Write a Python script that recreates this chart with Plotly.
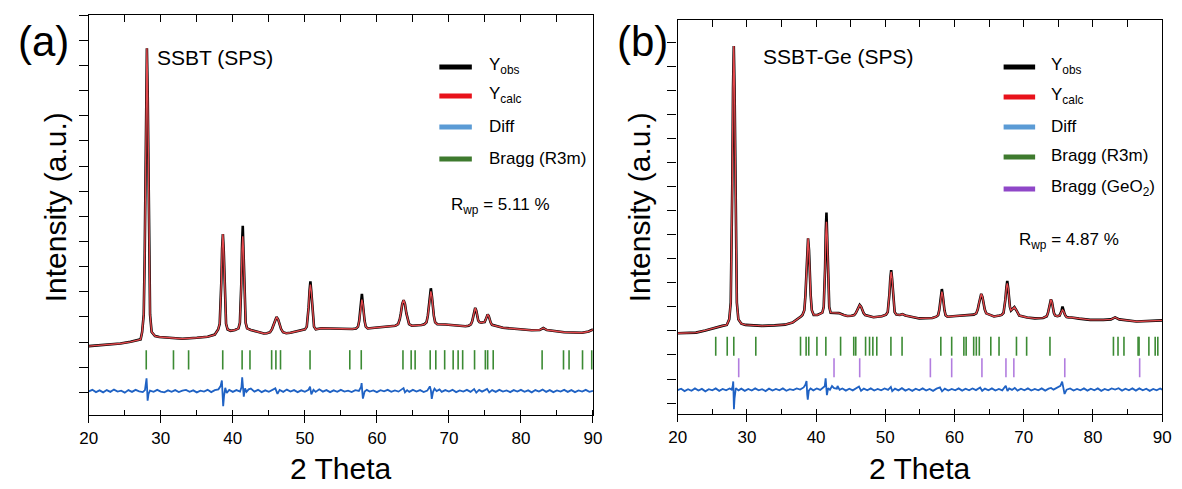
import plotly.graph_objects as go

W, H = 1182, 489
FONT = "Liberation Sans, Arial, sans-serif"

# ---------------- Panel (a): SSBT (SPS) ----------------
a_calc = [
    (20.0, 1840), (21.5, 1870), (23.0, 1900), (24.4, 1945), (25.8, 2010), (26.7, 2070), (27.2, 2110),
    (27.41, 2400), (27.63, 3090), (27.76, 5280), (27.85, 7930), (27.96, 11960), (28.07, 13690),
    (28.18, 11960), (28.29, 7930), (28.38, 5280), (28.51, 3090), (28.73, 2400),
    (29.2, 2240), (29.8, 2200), (31.0, 2170), (33.0, 2130), (35.0, 2170), (36.5, 2210), (37.5, 2300),
    (37.96, 2500), (38.18, 2730), (38.31, 3470), (38.40, 4360), (38.51, 5720), (38.62, 6300),
    (38.73, 5720), (38.84, 4360), (38.93, 3470), (39.06, 2730), (39.28, 2500),
    (39.7, 2450), (40.3, 2480),
    (40.78, 2545), (40.98, 2770), (41.10, 3480), (41.18, 4340), (41.28, 5650), (41.38, 6210),
    (41.48, 5650), (41.58, 4340), (41.66, 3480), (41.78, 2770), (41.98, 2545),
    (42.5, 2480), (43.3, 2420), (44.3, 2340),
    (44.72, 2353), (45.17, 2393), (45.44, 2518), (45.62, 2670), (45.845, 2901), (46.07, 3000),
    (46.295, 2901), (46.52, 2670), (46.70, 2518), (46.97, 2393), (47.42, 2353),
    (48.0, 2370), (48.9, 2420), (49.6, 2470),
    (50.02, 2506), (50.27, 2616), (50.42, 2961), (50.52, 3380), (50.645, 4017), (50.77, 4290),
    (50.895, 4017), (51.02, 3380), (51.12, 2961), (51.27, 2616), (51.52, 2506),
    (52.3, 2550), (53.5, 2540), (55.5, 2520), (56.6, 2520),
    (57.11, 2543), (57.38, 2614), (57.54, 2836), (57.65, 3105), (57.785, 3515), (57.92, 3690),
    (58.055, 3515), (58.19, 3105), (58.30, 2836), (58.46, 2614), (58.73, 2543),
    (59.7, 2570), (61.0, 2600), (62.0, 2625),
    (62.57, 2651), (62.95, 2713), (63.18, 2911), (63.33, 3150), (63.52, 3514), (63.71, 3670),
    (63.90, 3514), (64.09, 3150), (64.24, 2911), (64.47, 2713), (64.85, 2651),
    (65.6, 2660), (66.2, 2680),
    (66.59, 2707), (66.89, 2787), (67.07, 3042), (67.19, 3350), (67.34, 3819), (67.49, 4020),
    (67.64, 3819), (67.79, 3350), (67.91, 3042), (68.09, 2787), (68.39, 2707),
    (69.5, 2700), (71.0, 2660), (72.3, 2630),
    (72.75, 2652), (73.05, 2703), (73.23, 2827), (73.35, 2995), (73.50, 3250), (73.65, 3360),
    (73.80, 3250), (73.95, 2995), (74.07, 2860), (74.25, 2790), (74.5, 2770), (74.75, 2790),
    (74.96, 2800), (75.08, 2875), (75.23, 3032), (75.38, 3100), (75.53, 3032), (75.68, 2875),
    (75.80, 2776), (75.98, 2686), (76.28, 2663),
    (77.5, 2570), (79.5, 2520), (81.5, 2470), (82.6, 2480), (83.1, 2560), (83.6, 2480),
    (86.0, 2390), (88.5, 2370), (89.4, 2420), (90.0, 2500),
]
# observed peak tops that stick out above the calculated curve
a_obs_tops = [(41.28, 5900), (41.38, 6630), (50.77, 4420), (57.92, 3920), (67.49, 4140)]

a_diff = [
    (20.0, 40), (20.5, 100), (21.0, 10), (21.5, 80), (22.0, 0), (22.5, 90), (23.0, 20), (23.5, 110),
    (24.0, 30), (24.5, 70), (25.0, -10), (25.5, 90), (26.0, 20), (26.5, 100), (27.0, 40), (27.5, 10),
    (27.8, 90), (27.95, 350), (28.02, 560), (28.1, 150), (28.17, -330), (28.3, -60), (28.5, 70),
    (29.0, 20), (29.5, 100), (30.0, 30), (30.5, 0), (31.0, 80), (31.5, 20), (32.0, 90), (32.5, 10),
    (33.0, 70), (33.5, 100), (34.0, 20), (34.5, 80), (35.0, 0), (35.5, 70), (36.0, 30), (36.5, 100),
    (37.0, 10), (37.5, 90), (38.0, 120), (38.3, 250), (38.48, 470), (38.58, 100), (38.66, -550),
    (38.78, -150), (38.95, 180), (39.15, -20), (39.5, 100), (40.0, 20), (40.5, 90), (41.0, 30),
    (41.2, 200), (41.3, 600), (41.42, 80), (41.52, -170), (41.7, 160), (41.9, 20), (42.2, 120),
    (42.5, 150), (43.0, 30), (43.5, 100), (44.0, 10), (44.5, 80), (45.0, 20), (45.5, 100), (45.9, 160),
    (46.2, -60), (46.5, 100), (47.0, 20), (47.5, 110), (48.0, 30), (48.5, 90), (49.0, 10), (49.5, 80),
    (50.0, 20), (50.5, 100), (50.72, 230), (50.9, -80), (51.2, 100), (51.5, 20), (52.0, 120), (52.5, 30),
    (53.0, 90), (53.5, 10), (54.0, 80), (54.5, 20), (55.0, 100), (55.5, 30), (56.0, 70), (56.5, 10),
    (57.0, 90), (57.5, 60), (57.8, 220), (57.88, 370), (57.98, 0), (58.06, -250), (58.3, 30),
    (58.6, 100), (59.0, 30), (59.5, 80), (60.0, 10), (60.5, 90), (61.0, 40), (61.5, 100), (62.0, 20),
    (62.5, 80), (63.0, 30), (63.5, 140), (63.7, 170), (63.9, 0), (64.2, 90), (64.5, 20), (65.0, 100),
    (65.5, 30), (66.0, 90), (66.5, 10), (67.0, 70), (67.35, 240), (67.5, 80), (67.62, -260),
    (67.8, 20), (68.0, 150), (68.3, 50), (68.7, 120), (69.0, 20), (69.5, 90), (70.0, 30), (70.5, 100),
    (71.0, 10), (71.5, 80), (72.0, 30), (72.5, 100), (73.0, 20), (73.5, 130), (73.8, -10), (74.2, 100),
    (74.6, 30), (75.0, 90), (75.3, 140), (75.6, 0), (76.0, 90), (76.5, 20), (77.0, 100), (77.5, 30),
    (78.0, 80), (78.5, 10), (79.0, 90), (79.5, 30), (80.0, 100), (80.5, 20), (81.0, 80), (81.5, 0),
    (82.0, 90), (82.5, 30), (83.0, 110), (83.5, 20), (84.0, 90), (84.5, 10), (85.0, 80), (85.5, 30),
    (86.0, 100), (86.5, 20), (87.0, 90), (87.5, 10), (88.0, 80), (88.5, 30), (89.0, 100), (89.5, 20),
    (90.0, 60),
]
a_bragg_r3m = [27.98, 31.76, 33.86, 38.60, 41.29, 42.38, 45.39, 45.98, 46.62, 50.72, 56.24, 57.83,
               63.62, 64.76, 65.31, 67.40, 68.18, 69.41, 70.59, 71.28, 71.91, 73.56, 75.06, 75.38,
               76.15, 82.94, 85.91, 86.68, 88.55, 89.83]
a_bragg_level = (910, 1680)

# ---------------- Panel (b): SSBT-Ge (SPS) ----------------
b_calc = [
    (20.0, 2900), (21.5, 2910), (22.65, 2930), (24.0, 3020), (25.0, 3110), (25.8, 3170), (26.45, 3210), (27.1, 3250),
    (27.45, 3480), (27.67, 4180), (27.80, 6380), (27.89, 9045), (28.0, 13100), (28.11, 14840),
    (28.22, 13100), (28.33, 9045), (28.42, 6380), (28.55, 4180), (28.77, 3480),
    (29.2, 3300), (29.8, 3250), (31.0, 3230), (32.2, 3210), (34.0, 3230), (35.5, 3260), (36.6, 3350),
    (37.4, 3500), (37.85, 3610),
    (38.03, 3665), (38.30, 3860), (38.46, 4478), (38.57, 5225), (38.705, 6363), (38.84, 6850),
    (38.975, 6363), (39.11, 5225), (39.22, 4478), (39.38, 3860), (39.65, 3665),
    (40.2, 3660), (40.6, 3700),
    (40.9, 3757), (41.1, 3989), (41.22, 4722), (41.3, 5610), (41.4, 6961), (41.5, 7540),
    (41.6, 6961), (41.7, 5610), (41.78, 4722), (41.9, 3989), (42.1, 3757),
    (42.6, 3760), (43.3, 3740), (44.0, 3660), (44.5, 3620),
    (45.1, 3629), (45.5, 3657), (45.74, 3744), (45.9, 3850), (46.1, 4011), (46.3, 4080),
    (46.5, 4011), (46.7, 3850), (46.86, 3744), (47.1, 3657), (47.5, 3629),
    (48.3, 3570), (49.5, 3610),
    (50.1, 3676), (50.35, 3786), (50.5, 4131), (50.6, 4550), (50.725, 5187), (50.85, 5460),
    (50.975, 5187), (51.1, 4550), (51.2, 4131), (51.35, 3786), (51.6, 3676),
    (52.1, 3660), (52.45, 3700), (52.9, 3640), (54.9, 3520), (56.8, 3540),
    (57.36, 3591), (57.63, 3655), (57.79, 3856), (57.9, 4100), (58.035, 4471), (58.17, 4630),
    (58.305, 4471), (58.44, 4100), (58.55, 3856), (58.71, 3655), (58.98, 3591),
    (60.2, 3620), (62.1, 3660),
    (62.78, 3678), (63.14, 3730), (63.36, 3898), (63.5, 4100), (63.68, 4408), (63.86, 4540),
    (64.04, 4408), (64.22, 4100), (64.36, 3898), (64.58, 3730), (64.94, 3678),
    (65.7, 3600), (66.5, 3640),
    (66.81, 3667), (67.08, 3747), (67.24, 4002), (67.35, 4310), (67.485, 4779), (67.62, 4980),
    (67.755, 4779), (67.89, 4310), (68.0, 4002), (68.16, 3850),
    (68.4, 3920), (68.65, 3990), (68.95, 3850), (69.35, 3640),
    (70.5, 3560), (71.6, 3520), (72.8, 3540),
    (73.03, 3565), (73.33, 3611), (73.51, 3755), (73.63, 3930), (73.78, 4196), (73.93, 4310),
    (74.08, 4196), (74.23, 3930), (74.35, 3755), (74.53, 3640), (74.85, 3610),
    (75.18, 3636), (75.3, 3710), (75.45, 3822), (75.6, 3870), (75.75, 3822), (75.9, 3710),
    (76.02, 3636), (76.2, 3576), (76.5, 3555),
    (76.9, 3560), (78.0, 3510), (79.6, 3460), (81.5, 3460), (82.6, 3480), (83.2, 3560), (83.8, 3480),
    (86.3, 3390), (88.0, 3400), (89.0, 3430), (90.0, 3440),
]
b_obs_tops = [(41.4, 7150), (41.5, 7915), (50.85, 5530), (58.17, 4740), (67.62, 5080), (75.6, 4010)]

b_diff = [
    (20.0, 540), (20.5, 600), (21.0, 500), (21.5, 580), (22.0, 510), (22.5, 610), (23.0, 520), (23.5, 590),
    (24.0, 490), (24.5, 580), (25.0, 530), (25.5, 610), (26.0, 510), (26.5, 590), (27.0, 530), (27.5, 610),
    (27.8, 560), (27.95, 700), (28.03, 900), (28.08, 300), (28.13, -250), (28.22, 200), (28.4, 620),
    (28.8, 530), (29.2, 600), (29.7, 510), (30.2, 590), (30.7, 520), (31.2, 610), (31.7, 530), (32.2, 580),
    (32.7, 500), (33.2, 600), (33.7, 520), (34.2, 590), (34.7, 530), (35.2, 610), (35.7, 510), (36.2, 580),
    (36.7, 540), (37.2, 610), (37.7, 560), (38.2, 650), (38.45, 760), (38.62, 920), (38.72, 350),
    (38.8, 140), (38.95, 520), (39.2, 610), (39.6, 530), (40.1, 610), (40.6, 550), (41.0, 620),
    (41.25, 700), (41.38, 1030), (41.48, 560), (41.56, 330), (41.75, 620), (42.0, 550), (42.3, 710),
    (42.6, 620), (43.0, 600), (43.1, 710), (43.4, 550), (43.8, 610), (44.3, 520), (44.8, 600), (45.3, 530),
    (45.8, 610), (46.2, 690), (46.5, 510), (46.9, 600), (47.4, 530), (47.9, 610), (48.4, 520), (48.9, 590),
    (49.4, 530), (49.9, 610), (50.4, 550), (50.8, 670), (51.0, 500), (51.4, 600), (51.9, 530), (52.4, 620),
    (52.9, 520), (53.4, 590), (53.9, 510), (54.4, 600), (54.9, 530), (55.4, 610), (55.9, 520), (56.4, 590),
    (56.9, 510), (57.4, 600), (57.9, 650), (58.2, 490), (58.6, 600), (59.1, 520), (59.6, 590), (60.1, 530),
    (60.6, 610), (61.1, 520), (61.6, 600), (62.1, 530), (62.6, 610), (63.1, 540), (63.7, 650), (64.0, 510),
    (64.4, 600), (64.9, 530), (65.4, 610), (65.9, 520), (66.4, 590), (66.9, 530), (67.4, 720), (67.65, 500),
    (67.9, 610), (68.3, 550), (68.7, 630), (69.1, 520), (69.6, 600), (70.1, 530), (70.6, 610), (71.1, 520),
    (71.6, 590), (72.1, 530), (72.6, 610), (73.1, 520), (73.6, 600), (73.95, 630), (74.3, 560), (74.7, 620),
    (75.0, 650), (75.3, 720), (75.55, 890), (75.75, 600), (75.9, 380), (76.2, 560), (76.7, 610), (77.2, 520),
    (77.7, 590), (78.2, 530), (78.7, 610), (79.2, 520), (79.7, 600), (80.2, 530), (80.7, 610), (81.2, 510),
    (81.7, 590), (82.2, 530), (82.7, 610), (83.2, 560), (83.7, 620), (84.2, 520), (84.7, 600), (85.2, 530),
    (85.7, 610), (86.2, 520), (86.7, 610), (87.2, 530), (87.7, 600), (88.2, 510), (88.7, 590), (89.2, 530),
    (89.7, 610), (90.0, 560),
]
b_bragg_r3m = [25.50, 27.16, 28.11, 31.29, 37.75, 38.56, 38.94, 40.12, 41.41, 43.54, 45.44, 45.73,
               47.15, 47.72, 48.20, 48.77, 50.81, 52.42, 58.02, 59.59, 61.35, 61.68, 62.77, 63.15,
               63.58, 65.24, 66.43, 68.95, 70.42, 73.79, 82.96, 83.62, 84.48, 86.52, 86.66, 88.08,
               88.99, 89.37]
b_bragg_geo2 = [28.82, 42.59, 46.30, 56.51, 59.59, 63.96, 67.43, 68.57, 75.93, 86.75]
b_r3m_level = (1970, 2760)
b_geo2_level = (1072, 1862)

x_range = [20, 90]
x_ticks = [20, 30, 40, 50, 60, 70, 80, 90]

# ---------------- colours ----------------
C_OBS = "#000000"
C_CALC = "#e2474b"
C_DIFF = "#1f62c4"
C_R3M = "#3c8b34"
C_GEO2 = "#b27ddf"
L_CALC = "#e8121b"
L_DIFF = "#5b9bd5"
L_R3M = "#3e7a2e"
L_GEO2 = "#8f47c8"


def split(pairs):
    return [p[0] for p in pairs], [p[1] for p in pairs]


def with_tops(pairs, tops):
    d = dict(tops)
    return [(x, d.get(x, y)) for x, y in pairs]


def ticks(pos, level):
    xs, ys = [], []
    for p in pos:
        xs += [p, p, None]
        ys += [level[0], level[1], None]
    return xs, ys


fig = go.Figure()


def add_panel(calc, tops, diff, bragg_sets, xa, ya):
    ox, oy = split(with_tops(calc, tops))
    cx, cy = split(calc)
    dx, dy = split(diff)
    fig.add_trace(go.Scatter(x=ox, y=oy, mode="lines", line=dict(color=C_OBS, width=2.6),
                             xaxis=xa, yaxis=ya, showlegend=False))
    fig.add_trace(go.Scatter(x=cx, y=cy, mode="lines", line=dict(color=C_CALC, width=1.4),
                             xaxis=xa, yaxis=ya, showlegend=False))
    for pos, level, col in bragg_sets:
        tx, ty = ticks(pos, level)
        fig.add_trace(go.Scatter(x=tx, y=ty, mode="lines", line=dict(color=col, width=1.6),
                                 xaxis=xa, yaxis=ya, showlegend=False))
    fig.add_trace(go.Scatter(x=dx, y=dy, mode="lines", line=dict(color=C_DIFF, width=1.8),
                             xaxis=xa, yaxis=ya, showlegend=False))


add_panel(a_calc, a_obs_tops, a_diff, [(a_bragg_r3m, a_bragg_level, C_R3M)], "x", "y")
add_panel(b_calc, b_obs_tops, b_diff,
          [(b_bragg_r3m, b_r3m_level, C_R3M), (b_bragg_geo2, b_geo2_level, C_GEO2)], "x2", "y2")


def xaxis(domain, anchor):
    return dict(domain=domain, anchor=anchor, range=x_range, tickvals=x_ticks,
                ticks="outside", ticklen=7, tickwidth=1.3, tickcolor="black",
                minor=dict(dtick=5, tick0=20, ticks="inside", ticklen=5, tickwidth=1.2, tickcolor="black"),
                showline=True, linecolor="black", linewidth=1.4, mirror=True,
                showgrid=False, zeroline=False,
                tickfont=dict(family=FONT, size=17, color="black"))


def topaxis(over, anchor):
    return dict(overlaying=over, anchor=anchor, side="top", range=x_range, dtick=5, tick0=20,
                ticks="inside", ticklen=7, tickwidth=1.2, tickcolor="black",
                showticklabels=False, showline=False, showgrid=False, zeroline=False)


def yaxis(domain, anchor, rng):
    return dict(domain=domain, anchor=anchor, range=rng, dtick=1000, tick0=0,
                ticks="outside", ticklen=9, tickwidth=1.2, tickcolor="black",
                showticklabels=False, showline=True, linecolor="black", linewidth=1.4,
                mirror=True, showgrid=False, zeroline=False)


fig.update_layout(
    width=W, height=H, margin=dict(l=0, r=0, t=0, b=0),
    paper_bgcolor="white", plot_bgcolor="white", showlegend=False,
    xaxis=xaxis([81 / W, 593 / W], "y"),
    yaxis=yaxis([1 - 415 / H, 1 - 15 / H], "x", [-900, 15010]),
    xaxis2=xaxis([679 / W, 1171 / W], "y2"),
    yaxis2=yaxis([1 - 414 / H, 1 - 19.5 / H], "x2", [-453, 15943]),
    xaxis3=topaxis("x", "y"),
    xaxis4=topaxis("x2", "y2"),
)
# dummy traces so the top tick axes are rendered
fig.add_trace(go.Scatter(x=[None], y=[None], xaxis="x3", yaxis="y", showlegend=False))
fig.add_trace(go.Scatter(x=[None], y=[None], xaxis="x4", yaxis="y2", showlegend=False))


def px(x):
    return x / W


def py(y):
    return 1 - y / H


ann = []
shapes = []


def text(x, y, s, size, xanchor="left", angle=0):
    ann.append(dict(x=px(x), y=py(y), xref="paper", yref="paper", text=s, showarrow=False,
                    xanchor=xanchor, yanchor="middle", textangle=angle,
                    font=dict(family=FONT, size=size, color="black")))


def key(x0, x1, y, col):
    shapes.append(dict(type="line", xref="paper", yref="paper", x0=px(x0), x1=px(x1),
                       y0=py(y), y1=py(y), line=dict(color=col, width=5)))


# panel labels and titles
text(35, 41, "(a)", 42, "center")
text(643, 41, "(b)", 42, "center")
text(148, 57, "SSBT (SPS)", 21)
text(764, 56, "SSBT-Ge (SPS)", 21)
text(337, 468, "2 Theta", 30, "center")
text(925, 468, "2 Theta", 30, "center")
text(47, 207, "Intensity (a.u.)", 30, "center", -90)
text(640, 207, "Intensity (a.u.)", 30, "center", -90)

# legend (a)
for yy, col, lab in [(67, C_OBS, "Y<sub>obs</sub>"), (96, L_CALC, "Y<sub>calc</sub>"),
                     (127, L_DIFF, "Diff"), (159, L_R3M, "Bragg (R3m)")]:
    key(437, 470, yy, col)
    text(485, yy - 1, lab, 17)
text(499, 206, "R<sub>wp</sub> = 5.11 %", 17, "center")

# legend (b)
for yy, col, lab in [(67, C_OBS, "Y<sub>obs</sub>"), (97, L_CALC, "Y<sub>calc</sub>"),
                     (127, L_DIFF, "Diff"), (157, L_R3M, "Bragg (R3m)"),
                     (189, L_GEO2, "Bragg (GeO<sub>2</sub>)")]:
    key(1010, 1042, yy, col)
    text(1056, yy - 1, lab, 17)
text(1076, 241, "R<sub>wp</sub> = 4.87 %", 17, "center")

fig.update_layout(annotations=ann, shapes=shapes)
fig.write_html("out.html")
